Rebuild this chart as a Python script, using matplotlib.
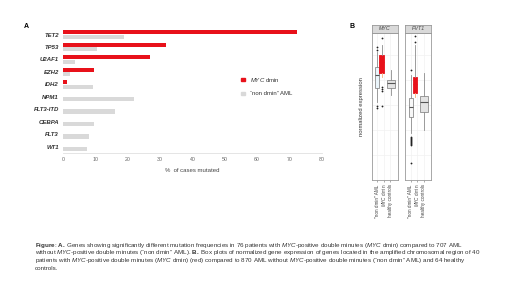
import numpy as np
import matplotlib
matplotlib.use("Agg")
import matplotlib.pyplot as plt
from matplotlib.patches import Rectangle

plt.rcParams['font.family'] = ['Liberation Sans', 'DejaVu Sans']
plt.rcParams['mathtext.fontset'] = 'custom'
plt.rcParams['mathtext.it'] = 'Liberation Sans:italic'
plt.rcParams['mathtext.rm'] = 'Liberation Sans'
plt.rcParams['mathtext.bf'] = 'Liberation Sans:bold'

# ---- panel A data (% of cases mutated)
genes = ['TET2', 'TP53', 'U2AF1', 'EZH2', 'IDH2', 'NPM1', 'FLT3-ITD', 'CEBPA', 'FLT3', 'WT1']
myc_dmin = [72.4, 31.9, 26.7, 9.4, 1.2, 0, 0, 0, 0, 0]
non_dmin = [18.8, 10.4, 3.5, 2.2, 9.1, 21.9, 16.0, 9.6, 8.0, 7.3]
x_ticks = [0, 10, 20, 30, 40, 50, 60, 70, 80]

# ---- panel B data (box stats, arbitrary expression units)
groups = ['"non dmin" AML', r'$\it{MYC}$ dmin', 'healthy controls']
myc_lo = [7.8, 10.33, 8.5]
myc_q1 = [9.17, 10.67, 9.17]
myc_med = [10.5, 11.8, 9.67]
myc_q3 = [11.33, 12.5, 10.0]
myc_hi = [12.83, 13.5, 11.0]
myc_fliers = [[13.0, 13.3, 7.4, 7.17], [14.17, 9.33, 9.1, 8.93, 7.4], []]

pvt_lo = [4.7, 8.33, 5.0]
pvt_q1 = [6.33, 8.67, 6.83]
pvt_med = [7.27, 9.6, 7.83]
pvt_q3 = [8.17, 10.27, 8.4]
pvt_hi = [10.5, 13.5, 10.67]
pvt_fliers = [[11.0, 4.3, 4.2, 4.1, 4.0, 3.9, 3.8, 3.7, 3.6, 3.5, 1.7],
              [13.83, 14.4], []]

RED = '#e8111a'
GREY = '#d9d9d9'

fig = plt.figure(figsize=(5.2, 2.92), dpi=100)

# ---------------- panel A
ax = fig.add_axes([63.3 / 520, 1 - 153 / 292, 258.4 / 520, 124.7 / 292])
y = np.arange(len(genes))
ax.barh(y - 0.18, myc_dmin, height=0.34, color=RED, linewidth=0)
ax.barh(y + 0.18, non_dmin, height=0.34, color=GREY, linewidth=0)
ax.set_ylim(len(genes) - 0.5, -0.5)
ax.set_xlim(0, 80)
ax.set_yticks(y)
ax.set_yticklabels(genes, fontsize=4.3, fontweight='bold', fontstyle='italic', color='#333333')
ax.set_xticks(x_ticks)
ax.set_xticklabels([str(t) for t in x_ticks], fontsize=3.8, color='#666666')
ax.tick_params(axis='y', length=0, pad=3)
ax.tick_params(axis='x', length=0, pad=3)
for s in ['top', 'right', 'left']:
    ax.spines[s].set_visible(False)
ax.spines['bottom'].set_color('#e0e0e0')
ax.spines['bottom'].set_linewidth(0.6)
ax.set_xlabel('%  of cases mutated', fontsize=4.3, color='#444444', labelpad=4)

# legend
fig.patches.append(Rectangle((241 / 520, 1 - 81 / 292), 3.5 / 520, 3.5 / 292,
                             transform=fig.transFigure, color=RED))
fig.patches.append(Rectangle((241 / 520, 1 - 95 / 292), 3.5 / 520, 3.5 / 292,
                             transform=fig.transFigure, color=GREY))
fig.text(250 / 520, 1 - 79.5 / 292, r'$\it{MYC}$ dmin', fontsize=4.3, va='center', color='#333333')
fig.text(250 / 520, 1 - 93.5 / 292, '\u201cnon dmin\u201d AML', fontsize=4.3, va='center', color='#333333')

fig.text(24 / 520, 1 - 26 / 292, 'A', fontsize=5, fontweight='bold', va='center')
fig.text(350 / 520, 1 - 26 / 292, 'B', fontsize=5, fontweight='bold', va='center')

# ---------------- panel B
positions = [1.05, 1.6, 2.7]
label_pos = [1.05, 1.85, 2.65]
widths = [0.5, 0.6, 1.0]
fills = [['#eaf5fb', RED, '#e3e3e3'], ['#f7f7f7', RED, '#e3e3e3']]
panels = [('MYC', myc_lo, myc_q1, myc_med, myc_q3, myc_hi, myc_fliers, 372),
          ('PVT1', pvt_lo, pvt_q1, pvt_med, pvt_q3, pvt_hi, pvt_fliers, 405.3)]

for k, (name, lo, q1, med, q3, hi, fl, left) in enumerate(panels):
    bax = fig.add_axes([left / 520, 1 - 180 / 292, 26 / 520, 147.3 / 292])
    stats = []
    for i in range(3):
        stats.append(dict(whislo=lo[i], q1=q1[i], med=med[i], q3=q3[i],
                          whishi=hi[i], fliers=fl[i]))
    bp = bax.bxp(stats, positions=positions, widths=widths, patch_artist=True,
                 manage_ticks=False,
                 boxprops=dict(edgecolor='#8c8c8c', linewidth=0.6),
                 medianprops=dict(color='#555555', linewidth=0.8),
                 whiskerprops=dict(color='#8c8c8c', linewidth=0.6),
                 capprops=dict(linewidth=0),
                 flierprops=dict(marker='o', markersize=1.3, markerfacecolor='#222222',
                                 markeredgecolor='none'))
    for i, b in enumerate(bp['boxes']):
        b.set_facecolor(fills[k][i])
    bp['boxes'][1].set_edgecolor(RED)
    bp['medians'][1].set_color(RED)
    bp['whiskers'][2].set_color('#f5b07a')
    bax.set_xlim(0.4, 3.6)
    bax.set_ylim(0, 14.73)
    bax.set_xticks(label_pos)
    bax.set_xticklabels(groups, rotation=90, fontsize=3.3, color='#444444')
    bax.tick_params(axis='x', length=1.5, width=0.5, color='#888888', pad=1.5)
    bax.set_yticks([2.5, 5, 7.5, 10, 12.5])
    bax.set_yticklabels([])
    bax.grid(True, color='#f2f2f2', linewidth=0.5)
    bax.tick_params(axis='y', length=0)
    for s in bax.spines.values():
        s.set_color('#9a9a9a')
        s.set_linewidth(0.6)
    bax.set_axisbelow(True)

    sax = fig.add_axes([left / 520, 1 - 32.7 / 292, 26 / 520, 8 / 292])
    sax.set_facecolor(GREY)
    sax.set_xticks([])
    sax.set_yticks([])
    for s in sax.spines.values():
        s.set_color('#9a9a9a')
        s.set_linewidth(0.6)
    sax.text(0.5, 0.5, name, fontsize=3.8, fontstyle='italic', color='#444444',
             ha='center', va='center', transform=sax.transAxes)

fig.text(361.7 / 520, 1 - 107 / 292, 'normalized expression', rotation=90,
         fontsize=4.2, color='#333333', ha='center', va='center')

# ---------------- caption
cap = [
    (r'$\bf{Figure}$: $\bf{A.}$ Genes showing significantly different mutation frequencies in 76 patients with '
     r'$\it{MYC}$-positive double minutes ($\it{MYC}$ dmin) compared to 707 AML'),
    (r'without $\it{MYC}$-positive double minutes (“non dmin” AML). $\bf{B.}$ Box plots of normalized gene expression '
     r'of genes located in the amplified chromosomal region of 40'),
    (r'patients with $\it{MYC}$-positive double minutes ($\it{MYC}$ dmin) (red) compared to 870 AML without '
     r'$\it{MYC}$-positive double minutes (“non dmin” AML) and 64 healthy'),
    'controls.',
]
for i, line in enumerate(cap):
    fig.text(35 / 520, 1 - (245 + 7.7 * i) / 292, line, fontsize=4.5, color='#333333', va='center')

fig.savefig('out.png', dpi=100)
